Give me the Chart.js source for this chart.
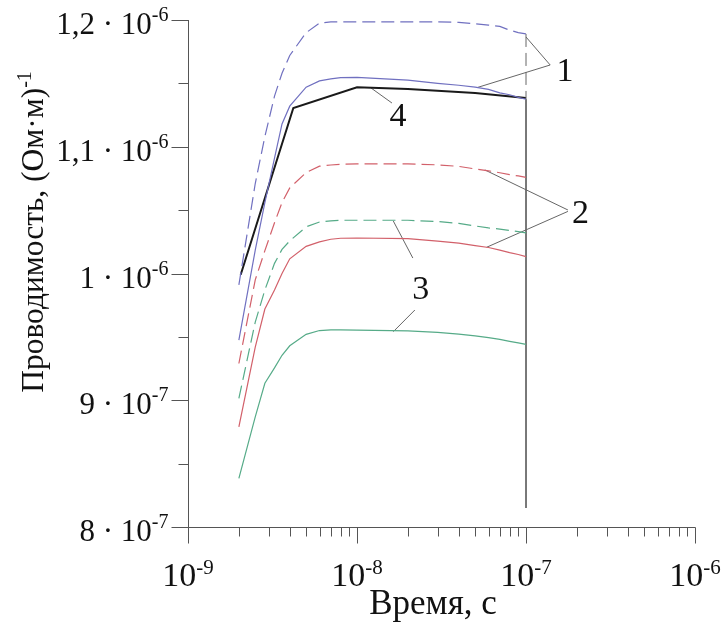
<!DOCTYPE html>
<html><head><meta charset="utf-8">
<script src="https://cdn.jsdelivr.net/npm/chart.js@4.4.0/dist/chart.umd.min.js"></script>
<style>html,body{margin:0;padding:0;background:#fff;}canvas{display:block;}</style>
</head><body>
<canvas id="c" width="723" height="624"></canvas>
<script>
// time, s
const times = [2e-9,2.5e-9,2.85e-9,3.25e-9,3.6e-9,4e-9,5e-9,6e-9,7e-9,8e-9,1e-8,2e-8,3e-8,4e-8,5e-8,6e-8,7e-8,8e-8,9e-8,1e-7];
// conductivity, units of 1e-6 (Ohm*m)^-1
const curve1Dashed = [0.991,1.071,1.108,1.140,1.158,1.172,1.190,1.1975,1.1985,1.1985,1.1985,1.1985,1.1985,1.1982,1.197,1.196,1.195,1.192,1.190,1.189];
const curve1Solid  = [0.9475,1.0185,1.056,1.091,1.118,1.132,1.147,1.152,1.1535,1.1545,1.1548,1.1525,1.150,1.1485,1.147,1.1452,1.1425,1.141,1.139,1.1375];
const curve2Dashed = [0.929,0.995,1.018,1.040,1.056,1.0675,1.0796,1.0847,1.0856,1.0862,1.0865,1.0865,1.0857,1.0845,1.0825,1.081,1.0795,1.078,1.077,1.0759];
const curve2Solid  = [0.879,0.942,0.972,0.987,1.000,1.0116,1.0214,1.025,1.027,1.0278,1.028,1.0275,1.0255,1.024,1.022,1.0205,1.0185,1.0165,1.015,1.0133];
const curve3Dashed = [0.9015,0.9617,0.987,1.008,1.019,1.0257,1.0368,1.0406,1.0415,1.042,1.042,1.042,1.041,1.0395,1.0375,1.036,1.035,1.034,1.033,1.032];
const curve3Solid  = [0.8384,0.8869,0.9134,0.9255,0.9355,0.943,0.952,0.955,0.9555,0.9556,0.9554,0.9548,0.9535,0.9522,0.9508,0.9494,0.948,0.9465,0.9452,0.9441];
const curve4Times  = [2.05e-9,4.2e-9,1e-8,2e-8,5e-8,1e-7];
const curve4Values = [0.999,1.1306,1.147,1.1455,1.1425,1.1385];
// vertical marker at t = 1e-7
const markerTime = 1e-7;
const markerDashedValues = [1.189,1.1375];
const markerSolidValues = [1.1375,0.815];

// axis ticks
const yTickValues = [0.8,0.9,1.0,1.1,1.2];
const yTickLabels = [['8 \u00b7 10','-7'],['9 \u00b7 10','-7'],['1 \u00b7 10','-6'],['1,1 \u00b7 10','-6'],['1,2 \u00b7 10','-6']];
const yMinorTicks = [0.85,0.95,1.05,1.15];
const xDecades = [1e-9,1e-8,1e-7,1e-6];
const xTickLabels = [['10','-9'],['10','-8'],['10','-7'],['10','-6']];
const xMinorTicks = [2e-9,3e-9,4e-9,5e-9,6e-9,7e-9,8e-9,9e-9,2e-8,3e-8,4e-8,5e-8,6e-8,7e-8,8e-8,9e-8,2e-7,3e-7,4e-7,5e-7,6e-7,7e-7,8e-7,9e-7];
const xTitle = 'Время, с';
const yTitle = ['Проводимость, (Ом\u00b7м)','-1'];

// curve labels and leader lines (data coords)
const curveLabels = [
  {text:'1', t:1.70e-7, v:1.1606},
  {text:'4', t:1.75e-8, v:1.125},
  {text:'2', t:2.10e-7, v:1.0489},
  {text:'3', t:2.38e-8, v:0.9883}
];
const leaderLines = [
  [[1.39e-7,1.1645],[1.0e-7,1.1866]],
  [[1.39e-7,1.1645],[5.2e-8,1.1469]],
  [[1.61e-8,1.1345],[1.21e-8,1.1464]],
  [[1.77e-7,1.0501],[5.71e-8,1.0817]],
  [[1.77e-7,1.0490],[5.85e-8,1.0207]],
  [[2.14e-8,1.0122],[1.64e-8,1.0414]],
  [[2.2e-8,0.9712],[1.64e-8,0.9541]]
];

const BLUE='#7070c0', RED='#d2606a', GREEN='#56ab88', AXIS='#555555';
const pts = (xs, ys) => xs.map((x,i)=>({x:x,y:ys[i]}));
const lineDs = (data,color,dash,width) => ({data:data,borderColor:color,borderWidth:width||1.2,borderDash:dash||[],showLine:true,pointRadius:0,fill:false,tension:0});

const datasets = [
  lineDs(pts(times,curve1Dashed),BLUE,[13,6]),
  lineDs(pts(times,curve1Solid),BLUE),
  lineDs(pts(times,curve2Dashed),RED,[13,6]),
  lineDs(pts(times,curve2Solid),RED),
  lineDs(pts(times,curve3Dashed),GREEN,[13,6]),
  lineDs(pts(times,curve3Solid),GREEN),
  lineDs(pts([markerTime,markerTime],markerDashedValues),'#666666',[13,6],1),
  lineDs(pts([markerTime,markerTime],markerSolidValues),'#666666',[],1),
  lineDs(pts(curve4Times,curve4Values),'#1a1a1a',[],2)
];
leaderLines.forEach(l=>datasets.push(lineDs([{x:l[0][0],y:l[0][1]},{x:l[1][0],y:l[1][1]}],'#555555',[],0.9)));

const SERIF = '"Liberation Serif","Times New Roman",serif';
function supText(ctx, base, sup, x, y, align, bSize, sSize, raise){
  ctx.font = bSize+'px '+SERIF;
  const wb = ctx.measureText(base).width;
  ctx.font = sSize+'px '+SERIF;
  const ws = ctx.measureText(sup).width;
  const total = wb+ws;
  let x0 = align==='right' ? x-total : (align==='center' ? x-total/2 : x);
  ctx.textAlign='left'; ctx.textBaseline='alphabetic';
  ctx.font = bSize+'px '+SERIF; ctx.fillText(base,x0,y);
  ctx.font = sSize+'px '+SERIF; ctx.fillText(sup,x0+wb,y-raise);
}

const axesPlugin = {
  id:'axesPlugin',
  afterDraw(chart){
    const ctx=chart.ctx, xs=chart.scales.x, ys=chart.scales.y, a=chart.chartArea;
    ctx.save();
    ctx.strokeStyle=AXIS; ctx.lineWidth=1;
    ctx.beginPath();
    const L=Math.round(a.left)+0.5, B=Math.round(a.bottom)+0.5;
    ctx.moveTo(L,Math.round(ys.getPixelForValue(1.2))); ctx.lineTo(L,B);
    ctx.moveTo(L,B); ctx.lineTo(Math.round(xs.getPixelForValue(1e-6))+0.5,B);
    yTickValues.forEach(v=>{const p=Math.round(ys.getPixelForValue(v))+0.5; ctx.moveTo(L-17,p); ctx.lineTo(L,p);});
    yMinorTicks.forEach(v=>{const p=Math.round(ys.getPixelForValue(v))+0.5; ctx.moveTo(L-10,p); ctx.lineTo(L,p);});
    xDecades.forEach(v=>{const p=Math.round(xs.getPixelForValue(v))+0.5; ctx.moveTo(p,B); ctx.lineTo(p,B+16);});
    xMinorTicks.forEach(v=>{const p=Math.round(xs.getPixelForValue(v))+0.5; ctx.moveTo(p,B); ctx.lineTo(p,B+9);});
    ctx.stroke();
    ctx.fillStyle='#111';
    yTickValues.forEach((v,i)=>{const p=ys.getPixelForValue(v); supText(ctx,yTickLabels[i][0],yTickLabels[i][1],L-20,p+14,'right',31,20,13);});
    xDecades.forEach((v,i)=>{const p=xs.getPixelForValue(v); supText(ctx,xTickLabels[i][0],xTickLabels[i][1],p,B+58,'center',34,21,12);});
    // x title
    ctx.font='35px '+SERIF; ctx.textAlign='center'; ctx.textBaseline='alphabetic';
    ctx.fillText(xTitle,433,B+86);
    // y title
    ctx.save(); ctx.translate(43,232); ctx.rotate(-Math.PI/2);
    supText(ctx,yTitle[0],yTitle[1],0,0,'center',31.5,20,12);
    ctx.restore();
    // curve labels
    ctx.font='34px '+SERIF; ctx.textAlign='center'; ctx.textBaseline='alphabetic';
    curveLabels.forEach(c=>{ctx.fillText(c.text,xs.getPixelForValue(c.t),ys.getPixelForValue(c.v)+11);});
    ctx.restore();
  }
};

new Chart(document.getElementById('c'),{
  type:'scatter',
  data:{datasets:datasets},
  options:{
    responsive:false, animation:false, events:[],
    layout:{padding:{left:188,top:20,right:28,bottom:97}},
    plugins:{legend:{display:false},tooltip:{enabled:false}},
    scales:{
      x:{type:'logarithmic',min:1e-9,max:1e-6,display:false},
      y:{type:'linear',min:0.8,max:1.2,display:false}
    }
  },
  plugins:[axesPlugin]
});
</script>
</body></html>
